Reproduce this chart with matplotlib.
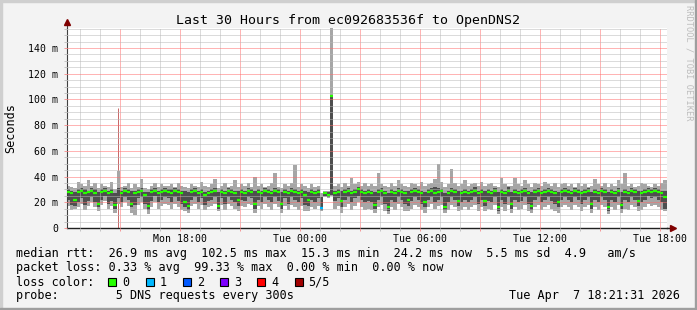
import numpy as np
import matplotlib
matplotlib.use('Agg')
import matplotlib.pyplot as plt
from matplotlib.patches import Rectangle

# smoke data, 10 minute bins over 30 hours (ms), six blocks of 5 hours each
med_a = [28, 27, 22, 28, 29, 27, 28, 29, 27, 19, 28, 29, 27, 28, 18, 28, 27, 29, 28, 19, 27, 28, 29, 26, 17, 28, 29, 27, 28, 29]
p2_a  = [22, 18, 17, 20, 23, 18, 21, 24, 20, 16, 22, 25, 19, 21, 15, 23, 20, 24, 22, 16, 18, 23, 24, 19, 14, 21, 25, 20, 22, 24]
p4_a  = [30, 29, 28, 30, 31, 30, 29, 31, 30, 28, 30, 31, 29, 30, 27, 31, 29, 31, 30, 29, 29, 30, 31, 28, 28, 30, 31, 29, 30, 31]
lo_a  = [17, 14, 15, 16, 19, 14, 17, 20, 16, 13, 18, 21, 15, 17, 12, 19, 16, 20, 17, 12, 10, 18, 20, 15, 11, 16, 20, 15, 17, 19]
hi_a  = [33, 32, 31, 36, 34, 33, 37, 33, 35, 31, 34, 33, 32, 36, 30, 44, 32, 33, 35, 31, 34, 32, 38, 31, 30, 33, 35, 32, 34, 33]

med_b = [28, 27, 29, 28, 27, 20, 17, 28, 29, 27, 28, 26, 27, 28, 29, 17, 28, 27, 29, 28, 27, 22, 28, 27, 29, 28, 19, 28, 27, 29]
p2_b  = [23, 20, 24, 21, 19, 16, 14, 22, 24, 20, 23, 18, 21, 22, 24, 15, 23, 19, 24, 22, 20, 17, 22, 21, 24, 23, 15, 22, 20, 24]
p4_b  = [30, 30, 31, 30, 29, 29, 28, 30, 31, 29, 30, 28, 29, 30, 31, 28, 30, 29, 31, 30, 29, 29, 30, 29, 31, 30, 29, 30, 29, 31]
lo_b  = [18, 15, 19, 16, 14, 13, 12, 17, 19, 15, 18, 14, 16, 17, 19, 13, 18, 14, 19, 17, 15, 13, 17, 16, 19, 18, 12, 17, 15, 19]
hi_b  = [33, 34, 32, 35, 33, 32, 31, 34, 33, 32, 36, 33, 32, 34, 38, 31, 33, 35, 32, 33, 37, 32, 34, 33, 35, 32, 40, 33, 34, 32]

med_c = [28, 27, 29, 28, 19, 28, 27, 29, 28, 27, 28, 26, 22, 28, 27, 28, 15.7, 27, 26, 102.5, 27, 28, 21, 28, 29, 27, 28, 30, 28, 27]
p2_c  = [22, 20, 24, 21, 15, 23, 19, 24, 22, 20, 23, 18, 17, 22, 20, 23, 14, 25, 24, 26, 21, 23, 16, 22, 24, 20, 23, 25, 22, 20]
p4_c  = [30, 29, 31, 30, 28, 30, 29, 31, 30, 29, 30, 29, 28, 30, 29, 30, 24, 28, 28, 102.5, 29, 30, 29, 30, 31, 29, 30, 32, 30, 29]
lo_c  = [16, 14, 19, 16, 12, 17, 14, 18, 16, 14, 17, 13, 13, 16, 15, 17, 13, 24, 23, 25, 15, 17, 12, 16, 19, 14, 17, 20, 16, 14]
hi_c  = [33, 35, 43, 32, 31, 34, 33, 35, 49, 32, 34, 33, 31, 34, 32, 33, 27, 29, 29, 155.5, 33, 34, 32, 35, 33, 39, 34, 36, 33, 35]

med_d = [28, 27, 18, 28, 29, 27, 16, 28, 27, 29, 28, 27, 22, 28, 29, 28, 27, 20, 28, 29, 27, 28, 29, 16, 27, 29, 28, 21, 27, 28]
p2_d  = [21, 20, 15, 22, 24, 19, 13, 22, 20, 24, 22, 19, 17, 21, 24, 22, 19, 16, 22, 24, 20, 22, 24, 14, 20, 24, 22, 17, 20, 22]
p4_d  = [30, 29, 28, 30, 31, 29, 27, 30, 29, 31, 30, 29, 29, 30, 31, 30, 29, 28, 30, 31, 32, 31, 30, 27, 29, 31, 30, 29, 29, 30]
lo_d  = [15, 14, 12, 16, 18, 13, 11, 16, 14, 19, 16, 13, 13, 15, 18, 16, 14, 12, 16, 19, 15, 17, 18, 12, 14, 18, 16, 13, 14, 16]
hi_d  = [33, 34, 33, 43, 34, 33, 32, 35, 33, 37, 34, 33, 32, 35, 34, 33, 36, 33, 34, 35, 38, 50, 36, 32, 34, 46, 35, 33, 34, 37]

med_e = [27, 28, 29, 27, 28, 21, 28, 27, 29, 16, 28, 27, 29, 19, 28, 27, 28, 29, 27, 17, 28, 29, 27, 28, 29, 28, 27, 20, 28, 29]
p2_e  = [20, 22, 24, 19, 22, 17, 21, 20, 24, 13, 22, 19, 24, 15, 22, 20, 21, 24, 19, 14, 22, 24, 20, 22, 24, 21, 19, 16, 22, 24]
p4_e  = [29, 30, 32, 29, 30, 29, 30, 29, 31, 28, 30, 29, 32, 28, 30, 29, 30, 31, 29, 28, 30, 31, 29, 30, 31, 30, 29, 28, 30, 31]
lo_e  = [14, 16, 18, 13, 16, 13, 15, 14, 18, 11, 16, 13, 18, 12, 16, 14, 15, 18, 13, 12, 16, 18, 14, 16, 18, 15, 13, 12, 16, 18]
hi_e  = [33, 34, 35, 33, 36, 33, 34, 35, 33, 32, 39, 34, 33, 33, 39, 34, 33, 37, 34, 32, 35, 34, 33, 36, 34, 33, 35, 32, 34, 35]

med_f = [28, 27, 29, 28, 27, 28, 29, 19, 28, 27, 29, 28, 16, 28, 27, 29, 18, 28, 27, 29, 28, 21, 27, 28, 29, 28, 29, 28, 27, 24]
p2_f  = [22, 20, 24, 22, 19, 22, 24, 15, 22, 20, 24, 22, 13, 22, 20, 24, 15, 22, 20, 24, 22, 17, 20, 22, 25, 23, 24, 22, 20, 15]
p4_f  = [30, 29, 31, 30, 29, 30, 31, 28, 30, 29, 31, 30, 28, 30, 29, 31, 28, 30, 29, 31, 30, 29, 29, 30, 31, 30, 31, 30, 29, 29]
lo_f  = [16, 14, 18, 16, 13, 16, 18, 12, 16, 14, 18, 16, 11, 16, 14, 18, 12, 15, 14, 18, 16, 13, 14, 16, 19, 17, 18, 16, 14, 13]
hi_f  = [33, 34, 32, 35, 33, 34, 32, 33, 38, 34, 33, 35, 32, 34, 33, 37, 34, 43, 33, 34, 32, 33, 35, 34, 33, 32, 34, 33, 35, 37]

# (bin, lost pings) ; everything else 0 loss
loss_events = [(15, 5), (76, 1)]
full_loss_top = 93.0

loss_colors = ['#26ff00', '#00b8ff', '#0059ff', '#7e00ff', '#ff0000', '#a10000']
loss_names = ['0', '1', '2', '3', '4', '5/5']

tick_hours = [18, 24, 30, 36, 42]
tick_labels = ['Mon 18:00', 'Tue 00:00', 'Tue 06:00', 'Tue 12:00', 'Tue 18:00']

title = 'Last 30 Hours from ec092683536f to OpenDNS2'
legend_rtt = 'median rtt:  26.9 ms avg  102.5 ms max  15.3 ms min  24.2 ms now  5.5 ms sd  4.9   am/s'
legend_loss = 'packet loss: 0.33 % avg  99.33 % max  0.00 % min  0.00 % now'
legend_probe = 'probe:        5 DNS requests every 300s'
stamp = 'Tue Apr  7 18:21:31 2026'

med = np.array(med_a + med_b + med_c + med_d + med_e + med_f, dtype=float)
p2 = np.array(p2_a + p2_b + p2_c + p2_d + p2_e + p2_f, dtype=float)
p4 = np.array(p4_a + p4_b + p4_c + p4_d + p4_e + p4_f, dtype=float)
lo = np.array(lo_a + lo_b + lo_c + lo_d + lo_e + lo_f, dtype=float)
hi = np.array(hi_a + hi_b + hi_c + hi_d + hi_e + hi_f, dtype=float)
loss = np.zeros(len(med), dtype=int)
for b, n in loss_events:
    loss[b] = n

W, H = 697, 310
mono = 'DejaVu Sans Mono'
t0 = 12 + 21 / 60 + 31 / 3600   # Mon 12:21:31 in hours
bw = 1 / 6
x = t0 + (np.arange(len(med)) + 0.5) * bw

grid_c = (0.72, 0.72, 0.72, 0.42)
mgrid_c = (1.0, 0.42, 0.42, 0.45)

fig = plt.figure(figsize=(W / 100, H / 100), dpi=100, facecolor='#f3f3f3')
# rrdtool style frame
fig.patches.append(Rectangle((0, 1 - 2 / H), 1, 2 / H, transform=fig.transFigure, color='#cfcfcf', zorder=1))
fig.patches.append(Rectangle((0, 0), 2 / W, 1, transform=fig.transFigure, color='#cfcfcf', zorder=1))
fig.patches.append(Rectangle((0, 0), 1, 2 / H, transform=fig.transFigure, color='#9e9e9e', zorder=1))
fig.patches.append(Rectangle((1 - 2 / W, 0), 2 / W, 1, transform=fig.transFigure, color='#9e9e9e', zorder=1))

ax = fig.add_axes([66.7 / W, 82 / H, 600 / W, 200 / H])
ax.set_facecolor('white')

ax.vlines(x[loss == 5], 0, full_loss_top, color='#a10000', alpha=0.6, lw=0.7, zorder=0.8)
ax.bar(x, hi - lo, bottom=lo, width=bw, color='#a6a6a6', linewidth=0, zorder=1, antialiased=False)
ax.bar(x, p4 - p2, bottom=p2, width=bw, color='#4e4e4e', linewidth=0, zorder=1.5, antialiased=False)
ok = loss < 5
ax.hlines(med[ok], x[ok] - bw / 2, x[ok] + bw / 2,
          colors=[loss_colors[n] for n in loss[ok]], lw=1.6, zorder=3)

ax.set_xlim(t0, t0 + 30)
ax.set_ylim(0, 155.6)

major_x = np.arange(15, 43, 3)
ax.set_xticks(major_x, [tick_labels[tick_hours.index(h)] if h in tick_hours else '' for h in major_x])
ax.set_xticks(np.arange(13, 43, 1), minor=True)
ax.set_yticks(np.arange(0, 141, 20), ['0'] + ['%d m' % v for v in range(20, 141, 20)])
ax.set_yticks(np.arange(0, 156, 5), minor=True)

ax.grid(which='major', color=mgrid_c, linestyle=(0, (1, 1)), linewidth=0.72)
ax.grid(which='minor', color=grid_c, linestyle=(0, (1, 1)), linewidth=0.72)
ax.set_axisbelow(False)
ax.tick_params(which='major', length=2, width=0.72, color='#f59a9a', labelsize=7.1, pad=2)
ax.tick_params(which='minor', length=2, width=0.72, color='#c4c4c4')
ax.tick_params(axis='y', pad=4)
for lab in ax.get_xticklabels() + ax.get_yticklabels():
    lab.set_family(mono)

for s in ['top', 'right']:
    ax.spines[s].set_visible(False)
ax.spines['left'].set_color('#404040')
ax.spines['bottom'].set_color('#202020')
ax.spines['left'].set_linewidth(0.8)
ax.spines['bottom'].set_linewidth(1.0)
ax.plot([0, 0], [1, 1.025], transform=ax.transAxes, color='#404040', lw=0.8, clip_on=False)
ax.plot([1, 1.006], [0, 0], transform=ax.transAxes, color='#202020', lw=1.0, clip_on=False)
ax.plot([0], [1.03], marker='^', ms=4.5, color='#800000', transform=ax.transAxes, clip_on=False)
ax.plot([1.01], [0], marker='>', ms=4.5, color='#800000', transform=ax.transAxes, clip_on=False)

ax.set_ylabel('Seconds', family=mono, fontsize=8.5)
ax.yaxis.set_label_coords(-49.5 / 600, 0.5)


def px(xp, yp):
    return xp / W, 1 - yp / H


fig.text(*px(348, 24), title, family=mono, fontsize=9.5, ha='center', va='baseline')
fig.text(*px(689, 5), 'RRDTOOL / TOBI OETIKER', family=mono, fontsize=6.2, color='#bdbdbd',
         rotation=-90, ha='center', va='top')

lx = 16
fig.text(*px(lx, 257.5), legend_rtt, family=mono, fontsize=8.5, va='baseline')
fig.text(*px(lx, 271.5), legend_loss, family=mono, fontsize=8.5, va='baseline')
fig.text(*px(lx, 285.5), 'loss color:', family=mono, fontsize=8.5, va='baseline')
fig.text(*px(lx, 299), legend_probe, family=mono, fontsize=8.5, va='baseline')
fig.text(*px(680, 299), stamp, family=mono, fontsize=8.5, va='baseline', ha='right')

for i, (c, name) in enumerate(zip(loss_colors, loss_names)):
    bx = 108.3 + 37.25 * i
    fig.patches.append(Rectangle(px(bx, 286.3), 8 / W, 8 / H, transform=fig.transFigure,
                                 facecolor=c, edgecolor='black', lw=0.8))
    fig.text(*px(bx + 14, 285.5), name, family=mono, fontsize=8.5, va='baseline')

fig.savefig('out.png', dpi=100, facecolor=fig.get_facecolor())
